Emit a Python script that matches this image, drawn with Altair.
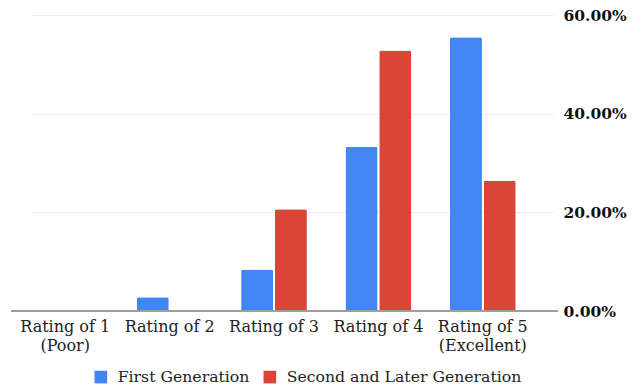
import altair as alt
import pandas as pd

categories = ["Rating of 1\n(Poor)", "Rating of 2", "Rating of 3", "Rating of 4", "Rating of 5\n(Excellent)"]
series = ["First Generation", "Second and Later Generation"]
first_gen = [0.0, 2.8, 8.4, 33.3, 55.5]
later_gen = [0.0, 0.0, 20.6, 52.8, 26.4]

rows = []
for c, a, b in zip(categories, first_gen, later_gen):
    rows.append({"rating": c, "group": series[0], "pct": a / 100})
    rows.append({"rating": c, "group": series[1], "pct": b / 100})
df = pd.DataFrame(rows)

serif = "DejaVu Serif"

bars = alt.Chart(df).mark_bar(cornerRadiusTopLeft=2, cornerRadiusTopRight=2).encode(
    x=alt.X("rating:N", sort=categories, title=None,
            scale=alt.Scale(range=[0, 522], paddingInner=0.37, paddingOuter=0.185),
            axis=alt.Axis(labelAngle=0, labelExpr="split(datum.label, '\\n')",
                          labelFont=serif, labelFontSize=16, labelColor="#222",
                          labelPadding=7, ticks=False, domain=False,
                          labelLineHeight=19)),
    xOffset=alt.XOffset("group:N", sort=series, scale=alt.Scale(paddingInner=0.05)),
    y=alt.Y("pct:Q", title=None,
            scale=alt.Scale(domain=[0, 0.6]),
            axis=alt.Axis(orient="right", format=".2%", values=[0, 0.2, 0.4, 0.6],
                          labelFont=serif, labelFontWeight="bold", labelFontSize=15.5,
                          labelColor="#111", labelPadding=10, ticks=False, domain=False,
                          gridColor="#ececec", gridWidth=1)),
    color=alt.Color("group:N", sort=series, title=None,
                    scale=alt.Scale(domain=series, range=["#4285F4", "#DB4437"]),
                    legend=alt.Legend(orient="none", direction="horizontal",
                                      legendX=80, legendY=354,
                                      symbolType="square", symbolSize=160,
                                      symbolStrokeWidth=0, labelLimit=400,
                                      labelFont=serif, labelFontSize=15.7, labelColor="#222",
                                      columnPadding=12, labelOffset=9)),
)

# baseline across the full plot width
baseline = alt.Chart(df).mark_rule(color="#9e9e9e", strokeWidth=1.5).encode(
    y=alt.datum(0), x=alt.value(-2), x2=alt.value(545)
)

chart = alt.layer(bars, baseline).properties(
    width=540, height=296,
    padding={"left": 10, "top": 8, "right": 2, "bottom": 2},
).configure_view(stroke=None)

chart.save("out.html", embed_options={"renderer": "svg", "actions": False})
